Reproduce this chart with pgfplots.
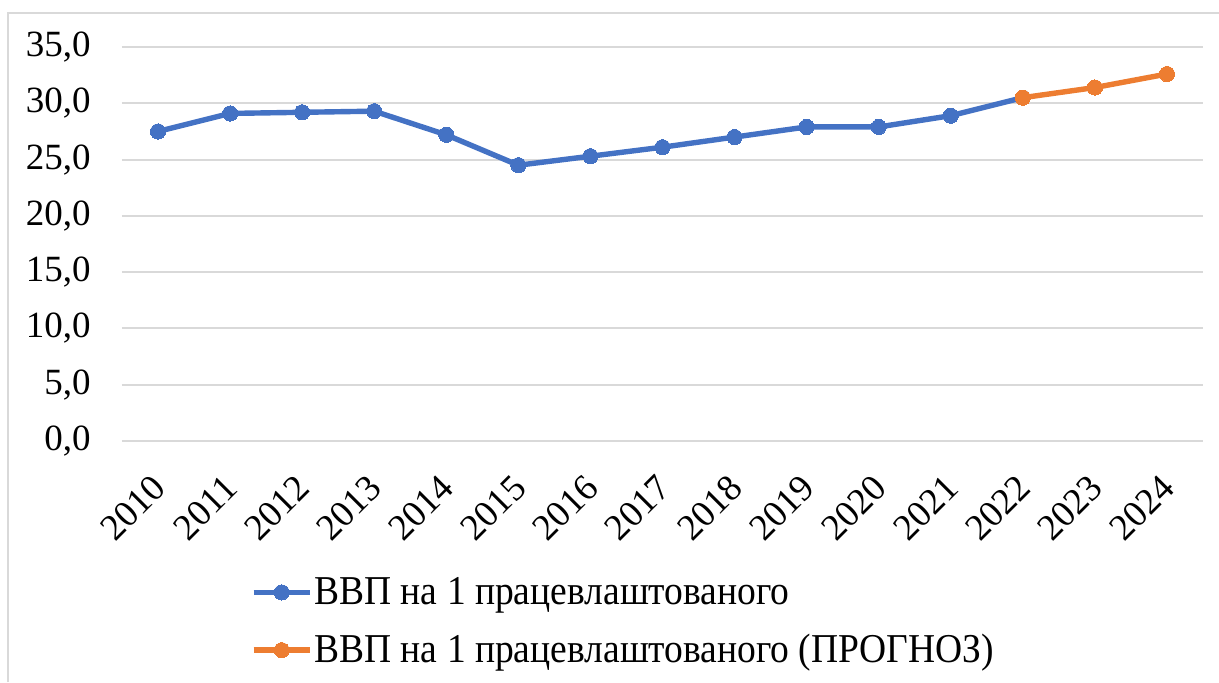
\documentclass[border=0pt]{standalone}
\usepackage{fontspec}
\setmainfont{Liberation Serif}
\usepackage{graphicx}
\usepackage{pgfplots}
\pgfplotsset{compat=1.18}
\definecolor{cblue}{HTML}{4472C4}
\definecolor{corange}{HTML}{ED7D31}
\definecolor{gridgray}{HTML}{D9D9D9}
\begin{document}
\begin{tikzpicture}
\begin{axis}[
  at={(0pt,0pt)}, anchor=south west,
  scale only axis, width=540.5pt, height=197pt,
  xmin=-0.5, xmax=14.5, ymin=0, ymax=35,
  xtick={0,1,2,3,4,5,6,7,8,9,10,11,12,13,14},
  xticklabels={2010,2011,2012,2013,2014,2015,2016,2017,2018,2019,2020,2021,2022,2023,2024},
  ytick={0,5,10,15,20,25,30,35},
  axis line style={draw=none},
  major tick length=0pt,
  ymajorgrids, grid style={gridgray, line width=1pt},
  /pgf/number format/assume math mode=true,
  yticklabel style={/pgf/number format/use comma, /pgf/number format/fixed, /pgf/number format/fixed zerofill, /pgf/number format/precision=1},
  ticklabel style={font=\fontsize{18.5}{20}\selectfont},
  yticklabel style={anchor=east, inner sep=0pt, xshift=-15.5pt},
  xticklabel style={rotate=45, anchor=north east, inner sep=0pt, yshift=-8.5pt, xshift=-13.9pt},
  legend style={at={(rel axis cs:0.119,-0.34)}, anchor=north west, draw=none, fill=none,
    font=\fontsize{20.5}{22}\selectfont, row sep=11.5pt, inner sep=0pt, nodes={inner sep=1pt}},
  legend cell align=left,
  legend image code/.code={\draw[mark repeat=2,mark phase=2] plot coordinates {(0pt,0pt)(14pt,0pt)(28pt,0pt)};},
  clip=false,
]
\addplot[cblue, line width=2.7pt, mark=*, mark size=3.8pt, mark options={fill=cblue, draw=cblue, line width=0pt}]
  coordinates {(0,27.5)(1,29.1)(2,29.2)(3,29.3)(4,27.2)(5,24.5)(6,25.3)(7,26.1)(8,27.0)(9,27.9)(10,27.9)(11,28.9)(12,30.5)};
\addlegendentry{\scalebox{0.915}[1]{ВВП на 1 працевлаштованого}}
\addplot[corange, line width=2.7pt, mark=*, mark size=3.8pt, mark options={fill=corange, draw=corange, line width=0pt}]
  coordinates {(12,30.5)(13,31.4)(14,32.6)};
\addlegendentry{\scalebox{0.915}[1]{ВВП на 1 працевлаштованого (ПРОГНОЗ)}}
\end{axis}
\draw[gridgray, line width=1pt] (-57pt,-120.5pt) -- (-57pt,214pt) -- (548.5pt,214pt);
\pgfresetboundingbox
\useasboundingbox (-61pt,-120.5pt) rectangle (548.5pt,220.5pt);
\end{tikzpicture}
\end{document}
